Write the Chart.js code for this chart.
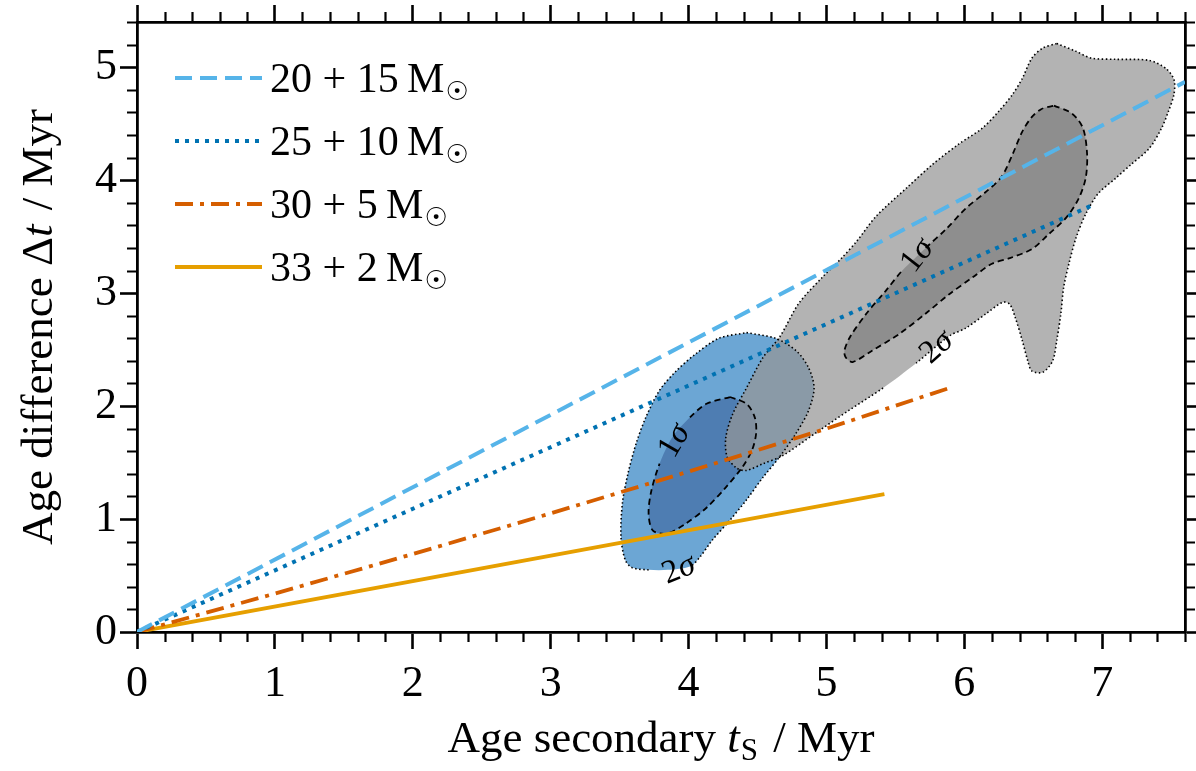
<!DOCTYPE html>
<html><head><meta charset="utf-8">
<script src="https://cdn.jsdelivr.net/npm/chart.js@4.4.1/dist/chart.umd.min.js"></script>
<style>html,body{margin:0;padding:0;background:#fff}#wrap{width:1196px;height:771px;position:relative}</style>
</head><body><div id="wrap"><canvas id="c" width="1196" height="771"></canvas></div>
<script>
// ---------------- data ----------------
const xTickLabels = [0, 1, 2, 3, 4, 5, 6, 7];
const yTickLabels = [0, 1, 2, 3, 4, 5];
const seriesNames = ['20 + 15', '25 + 10', '30 + 5', '33 + 2'];

const line20p15 = [[0, 0], [7.6, 4.87]];
const line25p10 = [[0, 0], [6.95, 3.79]];
const line30p5  = [[0, 0], [1, 0.34], [2, 0.69], [3, 1.05], [4, 1.42], [5, 1.80], [5.89, 2.16]];
const line33p2  = [[0, 0], [5.42, 1.22]];

const grey2sigma = [[6.67,5.21],[6.81,5.14],[6.92,5.08],[7.10,5.07],[7.34,5.06],[7.46,4.99],[7.52,4.89],[7.52,4.76],[7.48,4.61],[7.43,4.46],[7.34,4.28],[7.21,4.14],[7.10,4.02],[6.97,3.88],[6.88,3.70],[6.81,3.49],[6.76,3.27],[6.72,3.05],[6.70,2.82],[6.67,2.58],[6.64,2.40],[6.57,2.30],[6.49,2.31],[6.46,2.40],[6.42,2.58],[6.37,2.78],[6.33,2.90],[6.28,2.92],[6.16,2.82],[6.01,2.69],[5.89,2.62],[5.65,2.38],[5.41,2.16],[5.16,1.96],[4.92,1.76],[4.68,1.56],[4.54,1.49],[4.42,1.43],[4.35,1.45],[4.28,1.55],[4.27,1.72],[4.32,1.93],[4.42,2.16],[4.54,2.43],[4.66,2.61],[4.80,2.91],[4.97,3.14],[5.11,3.31],[5.22,3.46],[5.36,3.68],[5.58,3.93],[5.77,4.14],[5.96,4.32],[6.13,4.46],[6.25,4.61],[6.35,4.76],[6.42,4.90],[6.49,5.08],[6.57,5.17],[6.67,5.21]];
const grey1sigma = [[6.65,4.66],[6.78,4.59],[6.86,4.46],[6.89,4.23],[6.88,4.02],[6.83,3.84],[6.74,3.67],[6.61,3.52],[6.49,3.39],[6.33,3.31],[6.20,3.26],[6.06,3.14],[5.89,2.99],[5.72,2.82],[5.53,2.64],[5.33,2.49],[5.19,2.39],[5.14,2.43],[5.13,2.49],[5.17,2.61],[5.29,2.82],[5.43,3.02],[5.55,3.20],[5.72,3.40],[5.87,3.57],[6.01,3.75],[6.16,3.90],[6.27,4.03],[6.35,4.23],[6.42,4.43],[6.49,4.56],[6.56,4.63],[6.65,4.66]];
const blue2sigma = [[4.42,2.65],[4.63,2.60],[4.78,2.49],[4.87,2.34],[4.91,2.16],[4.87,1.96],[4.78,1.76],[4.66,1.55],[4.54,1.37],[4.42,1.17],[4.30,0.99],[4.17,0.81],[4.08,0.66],[4.01,0.58],[3.85,0.55],[3.71,0.55],[3.59,0.57],[3.54,0.64],[3.51,0.84],[3.52,1.14],[3.56,1.40],[3.62,1.67],[3.69,1.90],[3.79,2.14],[3.91,2.31],[4.05,2.46],[4.22,2.60],[4.42,2.65]];
const blue1sigma = [[4.30,2.08],[4.42,2.02],[4.48,1.90],[4.49,1.76],[4.46,1.61],[4.39,1.46],[4.27,1.28],[4.13,1.10],[3.98,0.96],[3.84,0.87],[3.74,0.90],[3.71,1.05],[3.73,1.25],[3.79,1.49],[3.88,1.72],[4.01,1.90],[4.13,2.02],[4.30,2.08]];

// segments of each outline left open for the inline labels (index of segment start)
const grey2sigmaGaps = [31];
const grey1sigmaGaps = [22];
const blue2sigmaGaps = [13, 14];
const blue1sigmaGaps = [13, 14];

// inline contour labels: [x, y, angle(deg), text]
const sigmaLabels = [
  [5.66, 3.33, -52, '1'],
  [5.80, 2.52, -42, '2'],
  [3.90, 1.69, -60, '1'],
  [3.93, 0.55, -22, '2']
];

// ---------------- chart ----------------
const FONT = '"Liberation Serif", "Times New Roman", "DejaVu Serif", serif';
const SYMFONT = '"DejaVu Sans", "Noto Sans", sans-serif';
const XMAX = 7.6, YMAX = 5.4;
const toXY = a => a.map(p => ({x: p[0], y: p[1]}));

function lineSet(label, arr, color, dash, width) {
  return {label, data: toXY(arr), borderColor: color, backgroundColor: color, borderDash: dash,
    borderWidth: width, pointRadius: 0, showLine: true, fill: false, tension: 0, order: 1, borderCapStyle: 'butt'};
}
function fillSet(arr, color, order) {
  return {label: '', data: toXY(arr), borderColor: 'rgba(0,0,0,0)', backgroundColor: color, borderWidth: 0,
    pointRadius: 0, showLine: true, fill: 'shape', tension: 0.3, order};
}
function outlineSet(arr, dash, gaps, width) {
  return {label: '', data: toXY(arr), borderColor: '#000', borderWidth: width, borderDash: dash,
    pointRadius: 0, showLine: true, fill: false, tension: 0.3, order: 5,
    segment: {borderColor: ctx => gaps.includes(ctx.p0DataIndex) ? 'rgba(0,0,0,0)' : '#000'}};
}

const datasets = [
  lineSet(seriesNames[0], line20p15, '#56b4e9', [17, 8], 4),
  lineSet(seriesNames[1], line25p10, '#0072b2', [4, 6], 4),
  lineSet(seriesNames[2], line30p5, '#d55e00', [18, 7, 4, 7], 3.8),
  lineSet(seriesNames[3], line33p2, '#e69f00', [], 3.8),
  fillSet(blue2sigma, '#6ca6d4', 10),
  fillSet(blue1sigma, '#4e7db2', 9),
  fillSet(grey2sigma, 'rgba(150,150,150,0.72)', 8),
  fillSet(grey1sigma, 'rgba(105,105,105,0.5)', 7),
  outlineSet(blue2sigma, [1.5, 2.5], blue2sigmaGaps, 1.6),
  outlineSet(blue1sigma, [6, 4], blue1sigmaGaps, 1.8),
  outlineSet(grey2sigma, [1.5, 2.5], grey2sigmaGaps, 1.6),
  outlineSet(grey1sigma, [6, 4], grey1sigmaGaps, 1.8)
];

function drawRuns(ctx, runs, x, y) {
  let total = 0;
  runs.forEach(r => { ctx.font = r.font; r.w = ctx.measureText(r.text).width + (r.gap || 0); total += r.w; });
  let cx = x - total / 2;
  runs.forEach(r => { ctx.font = r.font; ctx.fillText(r.text, cx, y + (r.dy || 0)); cx += r.w; });
}

const decor = {
  id: 'decor',
  afterDraw(chart) {
    const ctx = chart.ctx, a = chart.chartArea;
    const sx = chart.scales.x, sy = chart.scales.y;
    ctx.save();
    // minor ticks
    ctx.strokeStyle = '#000'; ctx.lineWidth = 2.2; ctx.setLineDash([]);
    ctx.beginPath();
    for (let i = 1; i * 0.2 <= XMAX + 1e-9; i++) {
      if (i % 5 === 0) continue;
      const px = Math.round(sx.getPixelForValue(i * 0.2)) + 0.5;
      ctx.moveTo(px, a.bottom); ctx.lineTo(px, a.bottom + 10);
      ctx.moveTo(px, a.top); ctx.lineTo(px, a.top - 10);
    }
    for (let i = 1; i * 0.2 <= YMAX + 1e-9; i++) {
      if (i % 5 === 0) continue;
      const py = Math.round(sy.getPixelForValue(i * 0.2)) + 0.5;
      ctx.moveTo(a.left, py); ctx.lineTo(a.left - 10, py);
      ctx.moveTo(a.right, py); ctx.lineTo(a.right + 10, py);
    }
    ctx.stroke();

    ctx.fillStyle = '#000'; ctx.textBaseline = 'alphabetic'; ctx.textAlign = 'left';
    const N = '45px ' + FONT, I = 'italic 45px ' + FONT;
    // x title
    drawRuns(ctx, [
      {text: 'Age secondary ', font: N}, {text: 't', font: I, gap: 1},
      {text: 'S', font: '31px ' + FONT, dy: 8, gap: 4}, {text: ' / Myr', font: N}
    ], (a.left + a.right) / 2, 752);
    // y title
    ctx.save();
    ctx.translate(52, (a.top + a.bottom) / 2);
    ctx.rotate(-Math.PI / 2);
    drawRuns(ctx, [
      {text: 'Age difference ', font: N}, {text: '\u0394', font: N},
      {text: 't', font: I, gap: 3}, {text: ' / Myr', font: N}
    ], 0, 0);
    ctx.restore();

    // legend
    const L = '42px ' + FONT;
    const rows = [78, 141, 204, 267];
    for (let i = 0; i < 4; i++) {
      const ds = chart.data.datasets[i], y = rows[i];
      ctx.strokeStyle = ds.borderColor; ctx.lineWidth = ds.borderWidth;
      ctx.setLineDash(ds.borderDash); ctx.lineCap = 'butt';
      ctx.beginPath(); ctx.moveTo(175, y); ctx.lineTo(262, y); ctx.stroke();
      ctx.setLineDash([]);
      ctx.font = L;
      const t = ds.label + '\u2009M';
      ctx.fillText(t, 270, y + 14);
      const w = ctx.measureText(t).width;
      ctx.font = '26px ' + SYMFONT;
      ctx.fillText('\u2609', 270 + w + 1, y + 22);
    }

    // sigma labels
    sigmaLabels.forEach(([x, y, ang, num]) => {
      ctx.save();
      ctx.translate(sx.getPixelForValue(x), sy.getPixelForValue(y));
      ctx.rotate(ang * Math.PI / 180);
      ctx.textBaseline = 'middle';
      drawRuns(ctx, [{text: num, font: '33px ' + FONT}, {text: '\u03c3', font: 'italic 33px ' + FONT}], 0, 0);
      ctx.restore();
    });
    ctx.restore();
  }
};

const tickFont = {family: FONT, size: 44};
function axis(pos, max, labels, size, showLabels, pad) {
  const horiz = pos === 'bottom' || pos === 'top';
  return {
    type: 'linear', position: pos, min: 0, max,
    afterBuildTicks: s => { s.ticks = labels.map(v => ({value: v})); },
    afterFit: s => {
      if (horiz) s.height = size; else s.width = size;
      s.paddingTop = 0; s.paddingBottom = 0; s.paddingLeft = 0; s.paddingRight = 0;
    },
    grid: {drawOnChartArea: false, drawTicks: true, tickLength: 17, tickWidth: 2.6, tickColor: '#000'},
    border: {display: true, color: '#000', width: 2.8},
    ticks: {display: showLabels, font: tickFont, color: '#000', padding: pad, maxRotation: 0, autoSkip: false},
    title: {display: false}
  };
}

new Chart(document.getElementById('c'), {
  type: 'scatter',
  data: {datasets},
  options: {
    responsive: false, animation: false, devicePixelRatio: 1,
    layout: {padding: 0},
    plugins: {legend: {display: false}, tooltip: {enabled: false}},
    scales: {
      x: axis('bottom', XMAX, xTickLabels, 139, true, 9),
      x2: axis('top', XMAX, xTickLabels, 22, false, 0),
      y: axis('left', YMAX, yTickLabels, 137, true, 3),
      y2: axis('right', YMAX, yTickLabels, 11, false, 0)
    }
  },
  plugins: [decor]
});
</script>
</body></html>
